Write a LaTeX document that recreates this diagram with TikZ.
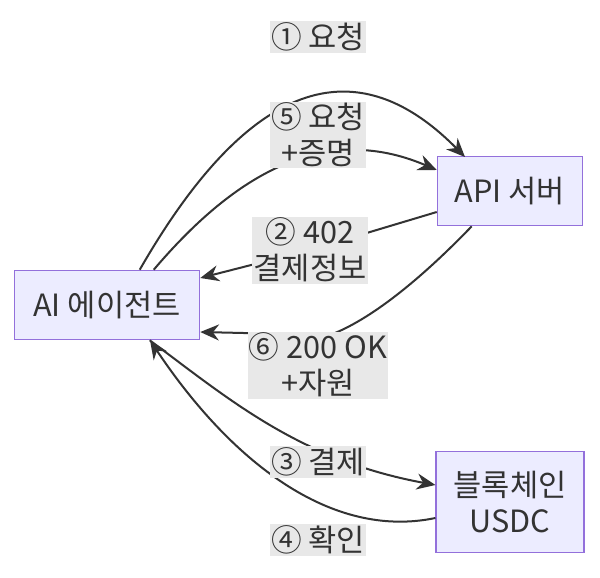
\documentclass[tikz,border=0pt]{standalone}
\usepackage{fontspec}
\setmainfont{Noto Sans CJK KR}
\usetikzlibrary{arrows.meta, positioning}
\definecolor{nodefill}{HTML}{ECECFF}
\definecolor{nodeline}{HTML}{9370DB}
\definecolor{ink}{HTML}{333333}
\definecolor{labelbg}{HTML}{E8E8E8}
\begin{document}
\begin{tikzpicture}[
    x=0.75pt, y=-0.75pt,
    every node/.style={align=center, font=\fontsize{23}{27}\selectfont, text=ink},
    box/.style={rectangle, draw=nodeline, fill=nodefill, line width=0.9pt, inner sep=0pt},
    tag/.style={fill=labelbg, inner sep=1pt},
    arrow/.style={-{Stealth[length=14pt, width=12pt]}, line width=1.5pt, draw=ink}
]
\useasboundingbox (0,0) rectangle (600,578);
\node[box, minimum width=139pt, minimum height=52pt] (AI) at (107,305) {AI 에이전트};
\node[box, minimum width=109pt, minimum height=52pt] (API) at (510,191) {API 서버};
\node[box, minimum width=111pt, minimum height=76pt] (BC) at (510,502) {블록체인\\USDC};
\coordinate (m2) at (310,250);

\draw[arrow] (AI.north west) ++(126,0) coordinate (a1)
    .. controls (220,130) and (330,20) .. (465,157);
\draw[arrow] (AI.north west) ++(140,0) coordinate (a5)
    .. controls (230,180) and (320,120) .. (API.west |- 0,170);
\draw[arrow] (API.west |- 0,212) -- (m2) -- (AI.east |- 0,278);
\draw[arrow] (API.south west) ++(35,0) coordinate (b6)
    .. controls (420,280) and (370,320) .. (330,335) -- (AI.south east |- 0,332);
\draw[arrow] (AI.south west) ++(136,0) coordinate (a3)
    .. controls (230,400) and (300,460) .. (BC.west |- 0,485);
\draw[arrow] (BC.west |- 0,518) .. controls (330,540) and (230,460) .. (AI.south west -| 150,0);

\node[tag] (L1) at (318,37) {① 요청};
\node[tag] (L5) at (318,135) {⑤ 요청\\+증명};
\node[tag] (L2) at (m2) {② 402\\결제정보};
\node[tag] (L6) at (318,365) {⑥ 200 OK\\+자원};
\node[tag] (L3) at (318,462) {③ 결제};
\node[tag] (L4) at (318,540) {④ 확인};
\end{tikzpicture}
\end{document}
